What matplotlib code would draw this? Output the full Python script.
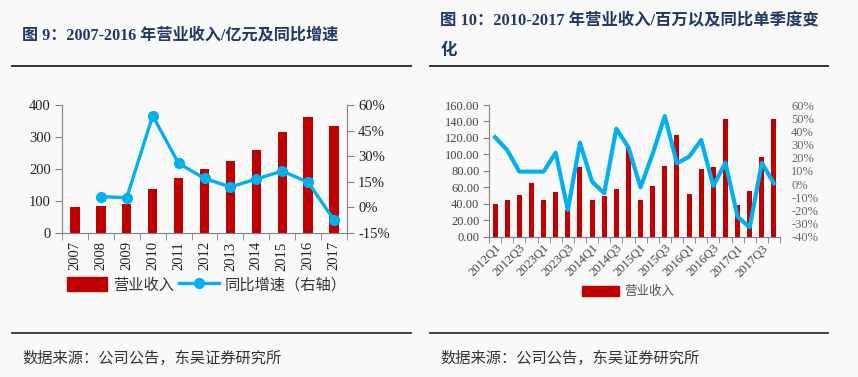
import matplotlib
matplotlib.use("Agg")
import matplotlib.pyplot as plt
from matplotlib.patches import Patch
from matplotlib.lines import Line2D
import numpy as np

# ---------------- data ----------------
years = ["2007", "2008", "2009", "2010", "2011", "2012", "2013", "2014", "2015", "2016", "2017"]
revenue_y = [80, 85, 90, 136, 172, 200, 224, 259, 315, 362, 335]
growth_y = [np.nan, 6.3, 5.7, 53.7, 25.8, 17.0, 12.0, 16.6, 21.3, 14.7, -7.4]

quarters = ["2012Q1", "2012Q2", "2012Q3", "2012Q4",
            "2023Q1", "2023Q2", "2023Q3", "2023Q4",
            "2014Q1", "2014Q2", "2014Q3", "2014Q4",
            "2015Q1", "2015Q2", "2015Q3", "2015Q4",
            "2016Q1", "2016Q2", "2016Q3", "2016Q4",
            "2017Q1", "2017Q2", "2017Q3", "2017Q4"]
revenue_q = [40, 44, 51, 65, 44, 54, 33, 85, 45, 50, 58, 108,
             44, 62, 86, 124, 52, 82, 85, 143, 39, 55, 97, 143]
growth_q = [35.5, 25.8, 9.4, 9.4, 9.4, 23.8, -19.7, 31.4, 1.8, -7.0, 42.0, 27.8,
            -2.5, 23.0, 51.6, 15.7, 20.7, 33.4, -1.5, 16.2, -24.8, -32.9, 16.0, 0.5]

left_yticks = [0, 100, 200, 300, 400]
left_rticks = [-15, 0, 15, 30, 45, 60]
right_yticks = [0, 20, 40, 60, 80, 100, 120, 140, 160]
right_rticks = [-40, -30, -20, -10, 0, 10, 20, 30, 40, 50, 60]

title_left = "图 9：2007-2016 年营业收入/亿元及同比增速"
title_right_1 = "图 10：2010-2017 年营业收入/百万以及同比单季度变"
title_right_2 = "化"
source_text = "数据来源：公司公告，东吴证券研究所"
leg_bar = "营业收入"
leg_line = "同比增速（右轴）"

# ---------------- style ----------------
BG = "#f9f9f9"
RED = "#c00000"
BLUE = "#00b0f0"
NAVY = "#1f3864"
GRAY = "#808080"
FAM = ["Liberation Serif", "Noto Sans CJK SC"]
plt.rcParams["font.family"] = FAM

W, H = 858, 377
fig = plt.figure(figsize=(W / 100, H / 100), dpi=100, facecolor=BG)

def fx(x):
    return x / W

def fy(y):
    return 1 - y / H

# titles, rules, sources
fig.text(fx(22), fy(35), title_left, fontsize=11.6, fontweight="bold", color=NAVY,
         va="center", ha="left", family=FAM)
fig.text(fx(440), fy(21), title_right_1, fontsize=11.8, fontweight="bold", color=NAVY,
         va="center", ha="left", family=FAM)
fig.text(fx(440), fy(51), title_right_2, fontsize=11.8, fontweight="bold", color=NAVY,
         va="center", ha="left", family=FAM)
for (x0, x1) in [(12, 411), (430, 828)]:
    fig.add_artist(Line2D([fx(x0), fx(x1)], [fy(66), fy(66)], color="#222222", lw=1.3))
    fig.add_artist(Line2D([fx(x0), fx(x1)], [fy(333), fy(333)], color="#333333", lw=1.3))
fig.text(fx(22), fy(358), source_text, fontsize=11, color="#333333", va="center", ha="left",
         family=["Noto Sans CJK SC"])
fig.text(fx(440), fy(358), source_text, fontsize=11, color="#333333", va="center", ha="left",
         family=["Noto Sans CJK SC"])

# ---------------- left chart ----------------
axL = fig.add_axes([fx(62), fy(233), fx(347 - 62), (233 - 105) / H])
axL.set_facecolor("none")
xl = np.arange(len(years))
axL.bar(xl, revenue_y, width=0.36, color=RED, zorder=2)
axL.set_xlim(-0.5, len(years) - 0.5)
axL.set_ylim(0, 400)
axL.set_yticks(left_yticks)
axL.set_yticklabels([str(v) for v in left_yticks], fontsize=10.5, color="#222222")
axL.set_xticks(xl)
axL.set_xticklabels(years, rotation=90, fontsize=10.5, color="#222222")
axL.tick_params(axis="x", which="major", length=0, pad=6)
axL.set_xticks(np.arange(-0.5, len(years), 1), minor=True)
axL.tick_params(axis="x", which="minor", length=5, color=GRAY, direction="out")
axL.tick_params(axis="y", length=5, color=GRAY, pad=3)
for s in ["top", "right"]:
    axL.spines[s].set_visible(False)
for s in ["left", "bottom"]:
    axL.spines[s].set_color(GRAY)

axL2 = axL.twinx()
axL2.plot(xl, growth_y, color=BLUE, lw=2.4, marker="o", markersize=7, zorder=3)
axL2.set_ylim(-15, 60)
axL2.set_yticks(left_rticks)
axL2.set_yticklabels([f"{v}%" for v in left_rticks], fontsize=10.5, color="#222222")
axL2.tick_params(axis="y", length=5, color=GRAY, pad=3)
for s in ["top", "left", "bottom"]:
    axL2.spines[s].set_visible(False)
axL2.spines["right"].set_color(GRAY)

handlesL = [Patch(color=RED),
            Line2D([], [], color=BLUE, lw=2.4, marker="o", markersize=7)]
fig.legend(handlesL, [leg_bar, leg_line], loc="center", bbox_to_anchor=(fx(207), fy(285)),
           ncol=2, frameon=False, prop={"family": ["Noto Sans CJK SC"], "size": 11},
           handlelength=2.6, handleheight=1.0, columnspacing=0.3, handletextpad=0.4,
           labelcolor="#333333")

# ---------------- right chart ----------------
axR = fig.add_axes([fx(489), fy(236.7), fx(780 - 489), (236.7 - 105) / H])
axR.set_facecolor("none")
xq = np.arange(len(quarters))
axR.bar(xq, revenue_q, width=0.42, color=RED, zorder=2)
axR.set_xlim(-0.5, len(quarters) - 0.5)
axR.set_ylim(0, 160)
axR.set_yticks(right_yticks)
axR.set_yticklabels([f"{v:.2f}" for v in right_yticks], fontsize=9, color="#444444")
axR.set_xticks(xq[::2])
axR.set_xticklabels(quarters[::2], rotation=45, ha="right", rotation_mode="anchor",
                    fontsize=9, color="#444444")
axR.tick_params(axis="x", which="major", length=0, pad=4)
axR.set_xticks(np.arange(-0.5, len(quarters), 1), minor=True)
axR.tick_params(axis="x", which="minor", length=4, color=GRAY, direction="out")
axR.tick_params(axis="y", length=4, color=GRAY, pad=3)
for s in ["top", "right"]:
    axR.spines[s].set_visible(False)
for s in ["left", "bottom"]:
    axR.spines[s].set_color(GRAY)

axR2 = axR.twinx()
axR2.plot(xq, growth_q, color=BLUE, lw=3.0, zorder=3)
axR2.set_ylim(-40, 60)
axR2.set_yticks(right_rticks)
axR2.set_yticklabels([f"{v}%" for v in right_rticks], fontsize=9, color="#666666")
axR2.tick_params(axis="y", length=0, pad=8)
for s in ["top", "left", "bottom", "right"]:
    axR2.spines[s].set_visible(False)

fig.legend([Patch(color=RED)], [leg_bar], loc="center", bbox_to_anchor=(fx(628), fy(292)),
           frameon=False, prop={"family": ["Noto Sans CJK SC"], "size": 9},
           handlelength=3.0, handleheight=0.9, handletextpad=0.4, labelcolor="#555555")

fig.savefig("out.png", dpi=100, facecolor=BG)
